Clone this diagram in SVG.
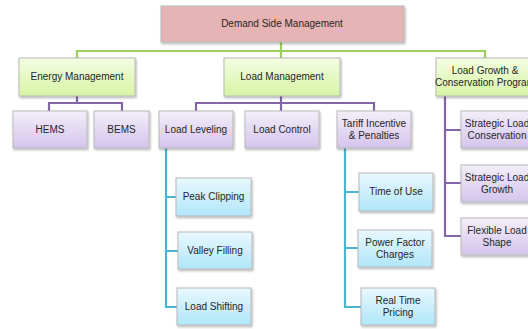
<svg xmlns="http://www.w3.org/2000/svg" width="528" height="329" viewBox="0 0 528 329">
<defs>
<linearGradient id="gGreen" x1="0" y1="0" x2="0" y2="1"><stop offset="0" stop-color="#f4fde3"/><stop offset="1" stop-color="#d6f4a4"/></linearGradient>
<linearGradient id="gPurple" x1="0" y1="0" x2="0" y2="1"><stop offset="0" stop-color="#f3eef9"/><stop offset="1" stop-color="#d4c4ec"/></linearGradient>
<linearGradient id="gCyan" x1="0" y1="0" x2="0" y2="1"><stop offset="0" stop-color="#e9f8fe"/><stop offset="1" stop-color="#b0e6f9"/></linearGradient>
<filter id="sh" x="-10%" y="-10%" width="130%" height="140%"><feDropShadow dx="1" dy="1.5" stdDeviation="1" flood-color="#000" flood-opacity="0.3"/></filter>
</defs>
<style>
rect{stroke:#b9b9b9;stroke-width:1;filter:url(#sh)}
.top{fill:#e6b4b5}
.g{fill:url(#gGreen)}
.p{fill:url(#gPurple)}
.c{fill:url(#gCyan)}
text{font-family:"Liberation Sans",Arial,sans-serif;font-size:10px;fill:#262626;text-anchor:middle}
.lg{stroke:#9bcf5d;stroke-width:2.2;fill:none}
.lp{stroke:#8466a8;stroke-width:2.2;fill:none}
.lc{stroke:#4bb4cf;stroke-width:2.2;fill:none}
</style>
<rect width="528" height="329" fill="#fff" style="stroke:none;filter:none"/>
<g id="connectors">
<path class="lg" d="M281,42V51 M77,58V51H485V58 M281,51V58"/>
<path class="lp" d="M77,96V103 M49,111V103H122V111"/>
<path class="lp" d="M281,96V111 M196,111V103H374V111"/>
<path class="lp" d="M445,96V236H461 M445,130H461 M445,183H461"/>
<path class="lc" d="M166,148V307H177 M166,197H176 M166,251H178"/>
<path class="lc" d="M345,148V307H361 M345,192H359 M345,248H358"/>
</g>
<g id="dsm"><rect class="top" x="161" y="6" width="243" height="36"/><text x="282" y="27">Demand Side Management</text></g>
<g id="energy"><rect class="g" x="19" y="58" width="116" height="38"/><text x="77" y="80">Energy Management</text></g>
<g id="loadmgmt"><rect class="g" x="224" y="58" width="116" height="38"/><text x="282" y="80">Load Management</text></g>
<g id="loadgrowth"><rect class="g" x="436" y="58" width="98" height="38"/><text x="485" y="74">Load Growth &amp;</text><text x="485" y="86">Conservation Program</text></g>
<g id="hems"><rect class="p" x="13" y="111" width="74" height="37"/><text x="50" y="133">HEMS</text></g>
<g id="bems"><rect class="p" x="94" y="111" width="55" height="37"/><text x="121.5" y="133">BEMS</text></g>
<g id="leveling"><rect class="p" x="159" y="111" width="74" height="37"/><text x="196" y="133">Load Leveling</text></g>
<g id="control"><rect class="p" x="245" y="111" width="74" height="37"/><text x="282" y="133">Load Control</text></g>
<g id="tariff"><rect class="p" x="337" y="111" width="74" height="37"/><text x="374" y="127">Tariff Incentive</text><text x="374" y="139">&amp; Penalties</text></g>
<g id="slc"><rect class="p" x="461" y="111" width="72" height="37"/><text x="497" y="127">Strategic Load</text><text x="497" y="139">Conservation</text></g>
<g id="slg"><rect class="p" x="461" y="165" width="72" height="37"/><text x="497" y="181">Strategic Load</text><text x="497" y="193">Growth</text></g>
<g id="fls"><rect class="p" x="461" y="218" width="72" height="37"/><text x="497" y="234">Flexible Load</text><text x="497" y="246">Shape</text></g>
<g id="peak"><rect class="c" x="176" y="178" width="75" height="38"/><text x="213.5" y="200">Peak Clipping</text></g>
<g id="valley"><rect class="c" x="178" y="232" width="74" height="37"/><text x="215" y="254">Valley Filling</text></g>
<g id="shift"><rect class="c" x="177" y="288" width="74" height="37"/><text x="214" y="310">Load Shifting</text></g>
<g id="tou"><rect class="c" x="359" y="173" width="74" height="38"/><text x="396" y="195">Time of Use</text></g>
<g id="pfc"><rect class="c" x="358" y="230" width="74" height="37"/><text x="395" y="246">Power Factor</text><text x="395" y="258">Charges</text></g>
<g id="rtp"><rect class="c" x="361" y="288" width="74" height="37"/><text x="398" y="304">Real Time</text><text x="398" y="316">Pricing</text></g>
</svg>
